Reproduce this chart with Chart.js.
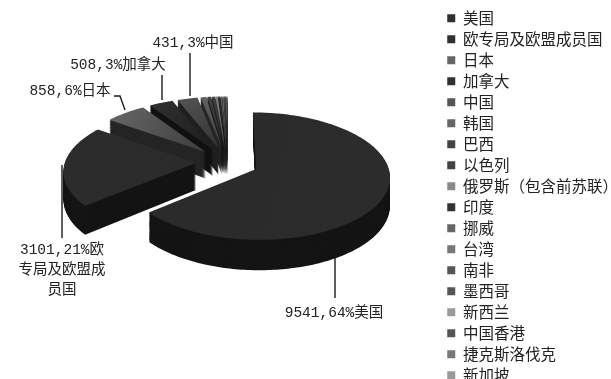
<!DOCTYPE html>
<html><head><meta charset="utf-8">
<style>html,body{margin:0;padding:0;background:#fff;overflow:hidden;width:611px;height:379px}
#w{width:628px;height:420px;position:relative}
canvas{filter:blur(0.45px)}</style>
<script src="https://cdn.jsdelivr.net/npm/chart.js@4"></script></head>
<body><div id="w"><canvas id="c"></canvas></div>
<script>
const categories=['美国','欧专局及欧盟成员国','日本','加拿大','中国','韩国','巴西','以色列','俄罗斯（包含前苏联）','印度','挪威','台湾','南非','墨西哥','新西兰','中国香港','捷克斯洛伐克','新加坡'];
const patents=[9541,3101,858,508,431,120,80,60,50,40,30,25,20,15,12,10,5,3];
const shades=['#303030','#303030','#666666','#303030','#555555','#666666','#444444','#444444','#888888','#333333','#666666','#777777','#555555','#555555','#999999','#555555','#777777','#999999'];
const labelFont='14.5px "Liberation Mono","Noto Sans CJK SC"';
const calloutText=[['9541,64%美国'],['3101,21%欧','专局及欧盟成','员国'],['858,6%日本'],['508,3%加拿大'],['431,3%中国']];

// perspective of the tilted pie; the pie's plane sits above the centre of the chart area
const TILT=0.475,PERSP=0.00088,DEPTH=27,LIFT=50;
function mul(hex,f){const n=parseInt(hex.slice(1),16);
  const c=s=>Math.round(((n>>s)&255)*f);return `rgb(${c(16)},${c(8)},${c(0)})`;}
function outline(a){
  const off=(a.options.offset||0)/2,mid=(a.startAngle+a.endAngle)/2;
  const ox=off*Math.cos(mid),oy=off*Math.sin(mid);
  const proj=(dx,dy)=>{const w=1+PERSP*dy;return [a.x+dx*w,a.y-LIFT+TILT*dy*w,w];};
  const pts=[proj(ox,oy)];
  const n=Math.max(2,Math.ceil((a.endAngle-a.startAngle)/0.02));
  for(let i=0;i<=n;i++){const t=a.startAngle+(a.endAngle-a.startAngle)*i/n;
    pts.push(proj(ox+a.outerRadius*Math.cos(t),oy+a.outerRadius*Math.sin(t)));}
  return pts;
}
const pie3d={id:'pie3d',
  beforeDatasetDraw(chart,args){
    const ctx=chart.ctx,arcs=args.meta.data,col=chart.data.datasets[0].backgroundColor;
    ctx.save();
    for(let i=arcs.length-1;i>=0;i--){
      const pts=outline(arcs[i]);
      const path=d=>{ctx.beginPath();pts.forEach((p,j)=>{const y=p[1]+d*p[2];j?ctx.lineTo(p[0],y):ctx.moveTo(p[0],y);});ctx.closePath();};
      ctx.fillStyle=mul(col[i],i<2?0.42:0.36);
      for(let d=DEPTH;d>0;d--){path(d);ctx.fill();}
      path(0);
      const m=pts[Math.floor(pts.length/2)];
      const g=ctx.createLinearGradient(m[0],m[1],pts[0][0],pts[0][1]);
      g.addColorStop(0,mul(col[i],i<2?0.92:0.95));g.addColorStop(1,mul(col[i],i<2?0.9:0.6));
      ctx.fillStyle=g;ctx.fill();
    }
    ctx.restore();
    return false;
  }};
const callouts={id:'callouts',
  afterDraw(chart){
    const ctx=chart.ctx;ctx.save();
    ctx.strokeStyle='#1a1a1a';ctx.lineWidth=1.4;
    [[[335,258],[335,298]],[[62,165],[62,238]],[[114,96],[120,96],[125,110]],[[162,75],[162,100]],[[190,53],[190,96]]]
    .forEach(l=>{ctx.beginPath();l.forEach((p,i)=>i?ctx.lineTo(p[0],p[1]):ctx.moveTo(p[0],p[1]));ctx.stroke();});
    ctx.font=labelFont;ctx.fillStyle='#222';ctx.textAlign='center';ctx.textBaseline='middle';
    [[334,313],[62,250],[70,91],[118,65],[193,43]].forEach((p,i)=>{
      calloutText[i].forEach((t,j)=>ctx.fillText(t,p[0],p[1]+j*20));});
    ctx.restore();
  }};
new Chart(document.getElementById('c'),{
  type:'pie',
  data:{labels:categories,datasets:[{data:patents,backgroundColor:shades,borderWidth:0,offset:63,radius:131}]},
  plugins:[pie3d,callouts],
  options:{responsive:true,maintainAspectRatio:false,animation:false,
    layout:{padding:{left:13,top:5,bottom:0}},
    plugins:{tooltip:{enabled:false},
      legend:{position:'right',align:'start',
        labels:{boxWidth:8,boxHeight:8,padding:5.5,color:'#222',font:{family:'"Noto Sans CJK SC"',size:15.5}}}}}
});
</script></body></html>
